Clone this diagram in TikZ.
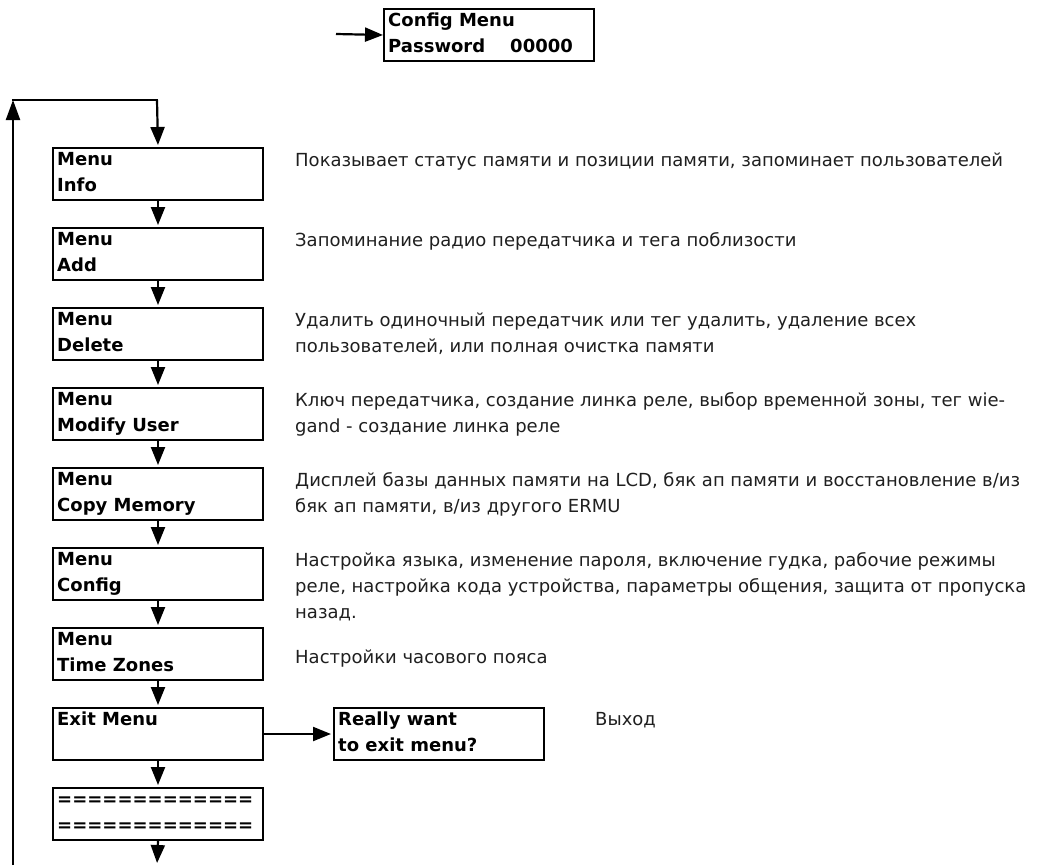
\documentclass[tikz,border=0pt]{standalone}
\usepackage{fontspec}
\setmainfont{DejaVu Sans}
\usetikzlibrary{arrows.meta}
\tikzset{
  lcdbox/.style={draw=black, line width=2pt, minimum width=210pt, minimum height=52pt, inner sep=0pt, anchor=north west},
  lcdtxt/.style={font=\bfseries\fontsize{18}{22}\selectfont, anchor=base west, inner sep=0pt},
  desc/.style={font=\fontsize{18}{22}\selectfont, anchor=base west, inner sep=0pt, text=black!88},
  flow/.style={line width=2.2pt, -{Triangle[length=18pt,width=14pt]}, shorten >=2pt},
  line/.style={line width=2.2pt}
}
\newcommand\lcdpanel[5]{%
  \node[lcdbox] (#1) at (#2,#3) {};
  \node[lcdtxt] (#1-a) at (#2+5,#3+18) {#4};
  \node[lcdtxt] (#1-b) at (#2+5,#3+44) {#5};
}
\begin{document}
\begin{tikzpicture}[x=1pt,y=-1pt]
\useasboundingbox (0,0) rectangle (1041,865);
% entry
\lcdpanel{cfgmenu}{383}{8}{Config Menu}{Password\hspace{25pt}00000}
\coordinate (entry) at (336,34);
\draw[flow, shorten >=0pt] (entry) -- (cfgmenu.west);
% menu column
\lcdpanel{info}{52}{147}{Menu}{Info}
\lcdpanel{add}{52}{227}{Menu}{Add}
\lcdpanel{del}{52}{307}{Menu}{Delete}
\lcdpanel{mod}{52}{387}{Menu}{Modify User}
\lcdpanel{copy}{52}{467}{Menu}{Copy Memory}
\lcdpanel{conf}{52}{547}{Menu}{Config}
\lcdpanel{tz}{52}{627}{Menu}{Time Zones}
\lcdpanel{exit}{52}{707}{Exit Menu}{}
\lcdpanel{sep}{52}{787}{=============}{=============}
\lcdpanel{really}{333}{707}{Really want}{to exit menu?}
% loop
\coordinate (loopbot) at (13,865);
\coordinate (loopcorner) at (13,100);
\coordinate (loopright) at (157,100);
\coordinate (bottom) at (157,865);
\draw[flow, shorten >=0pt, -{Triangle[length=20pt,width=14pt]}] (loopbot) -- (loopcorner);
\draw[line] ([xshift=-1.1pt]loopcorner) -- ([xshift=1.1pt]loopright);
\draw[flow] (loopright) -- (info.north);
\draw[flow] (info.south) -- (add.north);
\draw[flow] (add.south) -- (del.north);
\draw[flow] (del.south) -- (mod.north);
\draw[flow] (mod.south) -- (copy.north);
\draw[flow] (copy.south) -- (conf.north);
\draw[flow] (conf.south) -- (tz.north);
\draw[flow] (tz.south) -- (exit.north);
\draw[flow] (exit.south) -- (sep.north);
\draw[flow] (sep.south) -- (bottom);
\draw[flow] (exit.east) -- (really.west);
% descriptions
\node[desc] (d1) at (295,166) {Показывает статус памяти и позиции памяти, запоминает пользователей};
\node[desc] (d2) at (295,246) {Запоминание радио передатчика и тега поблизости};
\node[desc] (d3a) at (295,326) {Удалить одиночный передатчик или тег удалить, удаление всех};
\node[desc] (d3b) at (295,352) {пользователей, или полная очистка памяти};
\node[desc] (d4a) at (295,406) {Ключ передатчика, создание линка реле, выбор временной зоны, тег wie-};
\node[desc] (d4b) at (295,432) {gand - создание линка реле};
\node[desc] (d5a) at (295,486) {Дисплей базы данных памяти на LCD, бяк ап памяти и восстановление в/из};
\node[desc] (d5b) at (295,512) {бяк ап памяти, в/из другого ERMU};
\node[desc] (d6a) at (295,566) {Настройка языка, изменение пароля, включение гудка, рабочие режимы};
\node[desc] (d6b) at (295,592) {реле, настройка кода устройства, параметры общения, защита от пропуска};
\node[desc] (d6c) at (295,618) {назад.};
\node[desc] (d7) at (295,663) {Настройки часового пояса};
\node[desc] (d8) at (595,725) {Выход};
\end{tikzpicture}
\end{document}
